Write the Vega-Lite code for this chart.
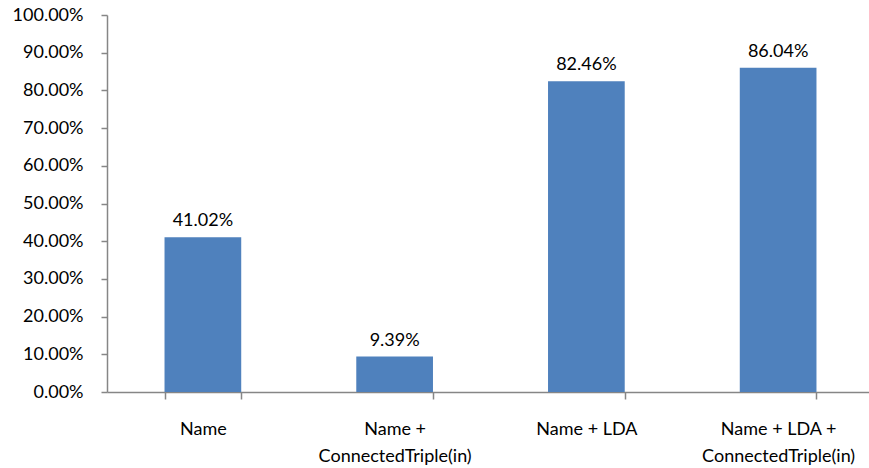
{
  "$schema": "https://vega.github.io/schema/vega-lite/v6.json",
  "autosize": "none",
  "padding": {"left": 107, "top": 15, "right": 0, "bottom": 76},
  "width": 767,
  "height": 377,
  "background": "white",
  "config": {
    "view": {"stroke": null},
    "font": "Lato"
  },
  "data": {
    "values": [
      {"method": "Name", "accuracy": 0.4102},
      {"method": "Name +|ConnectedTriple(in)", "accuracy": 0.0939},
      {"method": "Name + LDA", "accuracy": 0.8246},
      {"method": "Name + LDA +|ConnectedTriple(in)", "accuracy": 0.8604}
    ]
  },
  "encoding": {
    "x": {
      "field": "method",
      "type": "nominal",
      "sort": null,
      "scale": {"paddingInner": 0.6, "paddingOuter": 0.3},
      "axis": {
        "title": null,
        "labelAngle": 0,
        "labelExpr": "split(datum.label, '|')",
        "labelFont": "Lato",
        "labelFontSize": 18,
        "labelColor": "#000000",
        "labelLineHeight": 27,
        "labelPadding": 21,
        "labelBaseline": "top",
        "tickBand": "extent",
        "tickSize": 7,
        "tickColor": "#868686",
        "domainColor": "#868686",
        "domainWidth": 1.5,
        "tickWidth": 1.5
      }
    },
    "y": {
      "field": "accuracy",
      "type": "quantitative",
      "scale": {"domain": [0, 1], "nice": false},
      "axis": {
        "title": null,
        "format": ".2%",
        "values": [0, 0.1, 0.2, 0.3, 0.4, 0.5, 0.6, 0.7, 0.8, 0.9, 1.0],
        "grid": false,
        "labelFont": "Lato",
        "labelFontSize": 18,
        "labelColor": "#000000",
        "labelPadding": 18,
        "tickSize": 6,
        "tickColor": "#868686",
        "domainColor": "#868686",
        "domainWidth": 1.5,
        "tickWidth": 1.5
      }
    }
  },
  "layer": [
    {"mark": {"type": "bar", "color": "#4F81BD"}},
    {
      "mark": {"type": "text", "baseline": "bottom", "dy": -7, "fontSize": 18, "font": "Lato", "color": "#000000"},
      "encoding": {"text": {"field": "accuracy", "type": "quantitative", "format": ".2%"}}
    }
  ]
}
